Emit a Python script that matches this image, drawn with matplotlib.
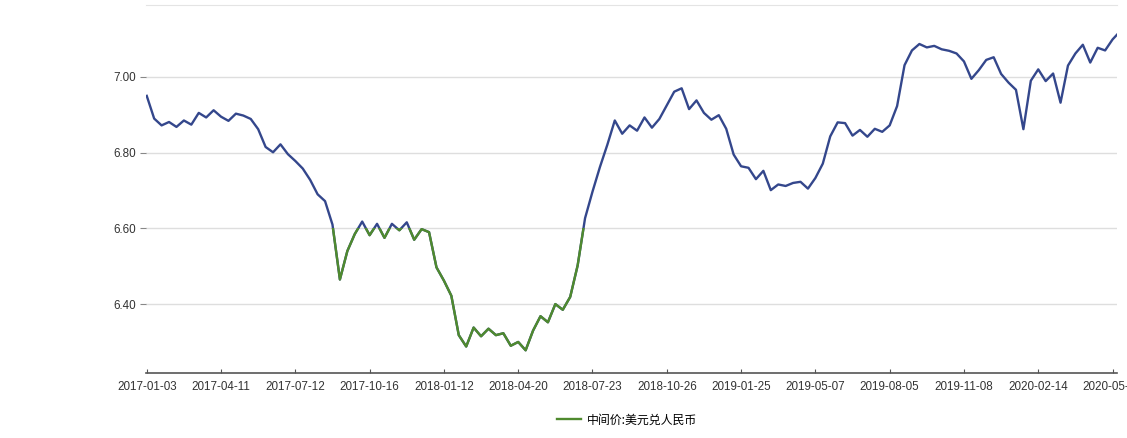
import numpy as np
import matplotlib
matplotlib.use("Agg")
import matplotlib.pyplot as plt
from matplotlib.patches import Rectangle

# ── data: USD/CNY central parity, sampled ~every 6-7 trading days ────────────
tick_labels = [
    "2017-01-03", "2017-04-11", "2017-07-12", "2017-10-16", "2018-01-12",
    "2018-04-20", "2018-07-23", "2018-10-26", "2019-01-25", "2019-05-07",
    "2019-08-05", "2019-11-08", "2020-02-14", "2020-05-22",
]
steps_per_tick = 10

usdcny = [
    # 2017-01-03 -> 2017-04-11
    6.950, 6.890, 6.872, 6.881, 6.868, 6.885, 6.874, 6.905, 6.893, 6.912, 6.895,
    # -> 2017-07-12
    6.884, 6.903, 6.898, 6.889, 6.862, 6.815, 6.801, 6.822, 6.796, 6.778,
    # -> 2017-10-16
    6.758, 6.728, 6.690, 6.672, 6.610, 6.465, 6.540, 6.585, 6.618, 6.582,
    # -> 2018-01-12
    6.612, 6.575, 6.612, 6.595, 6.616, 6.570, 6.598, 6.590, 6.497, 6.462,
    # -> 2018-04-20
    6.422, 6.318, 6.288, 6.338, 6.315, 6.335, 6.318, 6.323, 6.290, 6.300, 6.278,
    # -> 2018-07-23
    6.330, 6.368, 6.352, 6.400, 6.385, 6.419, 6.502, 6.627, 6.697, 6.762,
    # -> 2018-10-26
    6.821, 6.885, 6.850, 6.872, 6.858, 6.893, 6.866, 6.889, 6.925, 6.961,
    # -> 2019-01-25
    6.970, 6.915, 6.938, 6.905, 6.887, 6.899, 6.863, 6.795, 6.764, 6.760,
    # -> 2019-05-07
    6.730, 6.752, 6.701, 6.716, 6.712, 6.720, 6.723, 6.705, 6.733, 6.771,
    # -> 2019-08-05
    6.843, 6.880, 6.878, 6.845, 6.860, 6.842, 6.863, 6.855, 6.872, 6.923,
    # -> 2019-11-08
    7.031, 7.070, 7.087, 7.078, 7.082, 7.073, 7.069, 7.062, 7.041, 6.995,
    # -> 2020-02-14
    7.018, 7.045, 7.052, 7.008, 6.985, 6.966, 6.862, 6.990, 7.020, 6.989,
    # -> 2020-05-22
    7.009, 6.932, 7.030, 7.062, 7.085, 7.038, 7.077, 7.070, 7.099, 7.120,
]

series_name = "中间价:美元兑人民币"
y_ticks = [6.40, 6.60, 6.80, 7.00]

NAVY = "#34478c"
GREEN = "#4f8a2e"

plt.rcParams["font.family"] = ["Liberation Sans", "DejaVu Sans"]

fig = plt.figure(figsize=(11.27, 4.38), dpi=100)
ax = fig.add_axes([146 / 1127, 1 - 373 / 438, (1117 - 146) / 1127, (373 - 5) / 438])

x = np.arange(len(usdcny)) / steps_per_tick
y = np.array(usdcny)

# upper part of the line drawn navy, lower part green (as in the source image)
ax.plot(x, y, color=NAVY, lw=1.7, solid_joinstyle="round", zorder=3)
low, = ax.plot(x, y, color=GREEN, lw=1.7, solid_joinstyle="round", zorder=4)
clip = Rectangle((-1, 6.0), 20, 0.6, transform=ax.transData)
low.set_clip_path(clip)

ax.set_xlim(-0.01, 13.06)
ax.set_ylim(6.218, 7.19)

ax.set_xticks(range(len(tick_labels)))
ax.set_xticklabels(tick_labels)
ax.set_yticks(y_ticks)
ax.set_yticklabels([f"{v:.2f}" for v in y_ticks])

ax.grid(axis="y", color="#dedede", lw=1)
ax.set_axisbelow(True)
for s in ["left", "right"]:
    ax.spines[s].set_visible(False)
ax.spines["top"].set_color("#e4e4e4")
ax.spines["bottom"].set_color("#555555")
ax.spines["bottom"].set_linewidth(1.2)

ax.tick_params(axis="x", direction="in", length=3, color="#555555",
               labelsize=8.4, labelcolor="#333333", pad=6)
ax.tick_params(axis="y", direction="out", length=4, color="#888888",
               labelsize=8.4, labelcolor="#333333", pad=3)

fig.legend([low], [series_name], loc="center",
           bbox_to_anchor=(627 / 1127, 1 - 420 / 438), frameon=False,
           handlelength=2.0, handletextpad=0.5,
           prop={"family": ["Noto Sans CJK SC", "DejaVu Sans"], "size": 8.6})
# legend swatch should not be clipped
fig.legends[0].legend_handles[0].set_clip_path(None)

fig.savefig("out.png", dpi=100)
